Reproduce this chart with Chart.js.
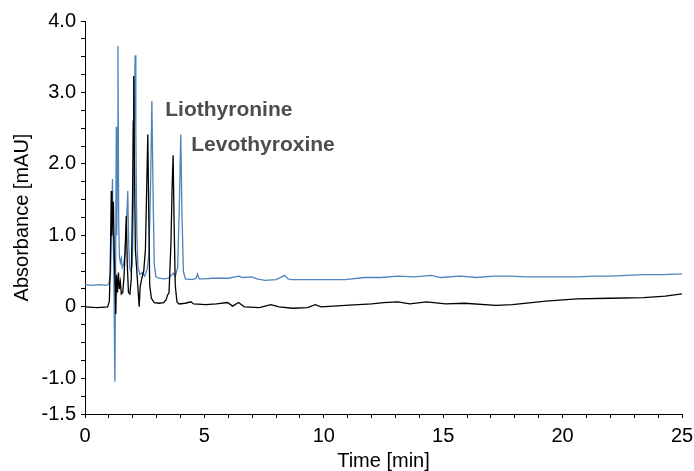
<!DOCTYPE html>
<html>
<head>
<meta charset="utf-8">
<script src="https://cdn.jsdelivr.net/npm/chart.js@4/dist/chart.umd.min.js"></script>
<style>
  html, body { margin: 0; padding: 0; background: #fff; }
  canvas { display: block; }
</style>
</head>
<body>
<canvas id="chart1" width="694" height="471"></canvas>
<script>
// blue trace (time in min, absorbance in mAU)
let blueTime = [0, 0.3, 0.6, 0.9, 1.0, 1.07, 1.12, 1.15, 1.18, 1.21, 1.25, 1.28, 1.31, 1.33, 1.36, 1.38, 1.41, 1.44, 1.48, 1.52, 1.56, 1.62, 1.68, 1.74, 1.79, 1.83, 1.87, 1.92, 1.98, 2.03, 2.07, 2.10, 2.13, 2.17, 2.22, 2.3, 2.4, 2.5, 2.6, 2.68, 2.74, 2.80, 2.85, 2.9, 2.97, 3.1, 3.3, 3.5, 3.65, 3.70, 3.78, 3.88, 3.95, 4.01, 4.06, 4.12, 4.2, 4.5, 4.65, 4.71, 4.78, 5.0, 5.33, 6.0, 6.44, 6.6, 6.98, 7.2, 7.54, 8.0, 8.37, 8.5, 8.65, 9.4, 10.2, 10.9, 11.7, 12.4, 13.1, 13.8, 14.5, 14.9, 15.7, 16.4, 17.1, 17.8, 18.5, 19.2, 20.6, 21.3, 22.0, 22.7, 23.4, 24.2, 25.0];
let blueAbs = [0.31, 0.30, 0.31, 0.30, 0.32, 0.45, 1.2, 1.79, 1.0, 0.4, -1.05, 0.3, 2.52, 1.0, 2.0, 3.65, 1.2, 0.70, 0.62, 0.68, 0.55, 0.60, 0.75, 1.2, 1.62, 0.9, 0.55, 0.50, 0.58, 1.5, 2.9, 3.52, 2.4, 1.0, 0.55, 0.45, 0.48, 0.43, 0.52, 0.75, 1.6, 2.88, 1.6, 0.6, 0.42, 0.40, 0.39, 0.40, 0.45, 0.47, 0.42, 0.55, 1.4, 2.41, 1.3, 0.5, 0.39, 0.38, 0.40, 0.46, 0.39, 0.39, 0.40, 0.40, 0.43, 0.41, 0.42, 0.39, 0.37, 0.38, 0.44, 0.39, 0.38, 0.38, 0.38, 0.38, 0.41, 0.41, 0.43, 0.42, 0.44, 0.41, 0.43, 0.41, 0.43, 0.43, 0.42, 0.42, 0.42, 0.43, 0.43, 0.44, 0.45, 0.45, 0.46];

// black trace
let blackTime = [0, 0.5, 0.95, 1.02, 1.06, 1.10, 1.13, 1.16, 1.19, 1.22, 1.26, 1.29, 1.32, 1.36, 1.40, 1.44, 1.48, 1.52, 1.58, 1.64, 1.69, 1.73, 1.77, 1.82, 1.88, 1.94, 1.99, 2.02, 2.04, 2.07, 2.11, 2.16, 2.21, 2.27, 2.31, 2.38, 2.46, 2.53, 2.58, 2.63, 2.67, 2.71, 2.78, 2.9, 3.1, 3.3, 3.40, 3.45, 3.52, 3.6, 3.65, 3.69, 3.73, 3.78, 3.85, 3.94, 4.2, 4.43, 4.55, 5.06, 5.5, 5.97, 6.18, 6.43, 6.67, 7.3, 7.78, 8.13, 8.69, 9.32, 9.64, 9.88, 10.9, 12.0, 12.5, 13.1, 13.6, 14.3, 15.1, 15.9, 17.2, 17.9, 19.3, 20.6, 22.0, 23.4, 24.3, 25.0];
let blackAbs = [0.0, -0.01, 0.0, 0.08, 0.6, 1.62, 1.0, 1.3, 1.47, 0.8, 0.3, -0.1, 0.45, 0.2, 0.48, 0.25, 0.35, 0.18, 0.2, 0.45, 0.9, 1.27, 0.6, 0.2, 0.18, 0.4, 1.5, 2.6, 3.23, 2.0, 0.8, 0.55, 0.3, 0.0, 0.28, 0.4, 0.5, 0.8, 1.6, 2.41, 1.3, 0.3, 0.12, 0.06, 0.05, 0.06, 0.1, 0.16, 0.2, 0.9, 1.7, 2.12, 1.2, 0.3, 0.07, 0.04, 0.05, 0.07, 0.04, 0.03, 0.04, 0.06, 0.01, 0.06, 0.00, -0.01, 0.03, 0.00, -0.02, -0.01, 0.03, 0.00, 0.02, 0.04, 0.06, 0.07, 0.04, 0.07, 0.04, 0.05, 0.02, 0.03, 0.08, 0.11, 0.12, 0.13, 0.15, 0.18];

// axes
let xTicks = [0, 1, 2, 3, 4, 5, 6, 7, 8, 9, 10, 11, 12, 13, 14, 15, 16, 17, 18, 19, 20, 21, 22, 23, 24, 25];
let xLabels = { 0: '0', 5: '5', 10: '10', 15: '15', 20: '20', 25: '25' };
let yTicks = [-1.5, -1.25, -1, -0.75, -0.5, -0.25, 0, 0.25, 0.5, 0.75, 1, 1.25, 1.5, 1.75, 2, 2.25, 2.5, 2.75, 3, 3.25, 3.5, 3.75, 4];
let yLabels = { '-1.5': '-1.5', '-1': '-1.0', '0': '0', '1': '1.0', '2': '2.0', '3': '3.0', '4': '4.0' };

// peak annotations
let peakNames = ['Liothyronine', 'Levothyroxine'];
let peakTime = [3.36, 4.45];
let peakAbs = [2.67, 2.18];

function toPoints(xs, ys) {
  return xs.map((x, i) => ({ x: x, y: ys[i] }));
}

const peakLabels = {
  id: 'peakLabels',
  afterDatasetsDraw(chart) {
    const ctx = chart.ctx;
    const xs = chart.scales.x, ys = chart.scales.y;
    ctx.save();
    ctx.font = 'bold 21px "Liberation Sans", Arial, sans-serif';
    ctx.fillStyle = '#4d4d4d';
    ctx.textAlign = 'left';
    ctx.textBaseline = 'alphabetic';
    peakNames.forEach((name, i) => {
      ctx.fillText(name, xs.getPixelForValue(peakTime[i]), ys.getPixelForValue(peakAbs[i]));
    });
    ctx.restore();
  }
};

document.addEventListener('DOMContentLoaded', function () {
  const tickFont = { family: '"Liberation Sans", Arial, sans-serif', size: 20 };

  new Chart(document.getElementById('chart1').getContext('2d'), {
    type: 'line',
    data: {
      datasets: [
        {
          data: toPoints(blackTime, blackAbs),
          borderColor: '#000000',
          borderWidth: 1.3,
          fill: false
        },
        {
          data: toPoints(blueTime, blueAbs),
          borderColor: '#4d84bd',
          borderWidth: 1.3,
          fill: false
        }
      ]
    },
    options: {
      responsive: false,
      animation: false,
      devicePixelRatio: 1,
      layout: { padding: { top: 21, right: 12, left: 0, bottom: 0 } },
      plugins: { legend: { display: false }, tooltip: { enabled: false } },
      elements: { point: { radius: 0 }, line: { tension: 0 } },
      scales: {
        x: {
          type: 'linear',
          min: 0,
          max: 25,
          afterBuildTicks: s => { s.ticks = xTicks.map(v => ({ value: v })); },
          afterFit: s => { s.height = 57; s.paddingRight = 0; s.paddingLeft = 0; },
          grid: { drawOnChartArea: false, drawTicks: true, tickLength: 4, color: '#000' },
          border: { display: true, color: '#000', width: 1 },
          ticks: {
            color: '#000',
            font: tickFont,
            padding: 6,
            maxRotation: 0,
            autoSkip: false,
            callback: v => (xLabels[v] !== undefined ? xLabels[v] : '')
          },
          title: {
            display: true,
            text: 'Time [min]',
            color: '#000',
            font: { family: '"Liberation Sans", Arial, sans-serif', size: 20, lineHeight: 1 },
            padding: { top: 0, bottom: 0 }
          }
        },
        y: {
          type: 'linear',
          min: -1.5,
          max: 4,
          afterBuildTicks: s => { s.ticks = yTicks.map(v => ({ value: v })); },
          afterFit: s => { s.width = 85; s.paddingTop = 0; s.paddingBottom = 0; },
          grid: { drawOnChartArea: false, drawTicks: true, tickLength: 4, color: '#000' },
          border: { display: true, color: '#000', width: 1 },
          ticks: {
            color: '#000',
            font: tickFont,
            padding: 5,
            autoSkip: false,
            callback: v => (yLabels[String(v)] !== undefined ? yLabels[String(v)] : '')
          },
          title: {
            display: true,
            text: 'Absorbance [mAU]',
            color: '#000',
            font: { family: '"Liberation Sans", Arial, sans-serif', size: 20, lineHeight: 1.2 },
            padding: { top: 10, bottom: 0 }
          }
        }
      }
    },
    plugins: [peakLabels]
  });
});
</script>
</body>
</html>
